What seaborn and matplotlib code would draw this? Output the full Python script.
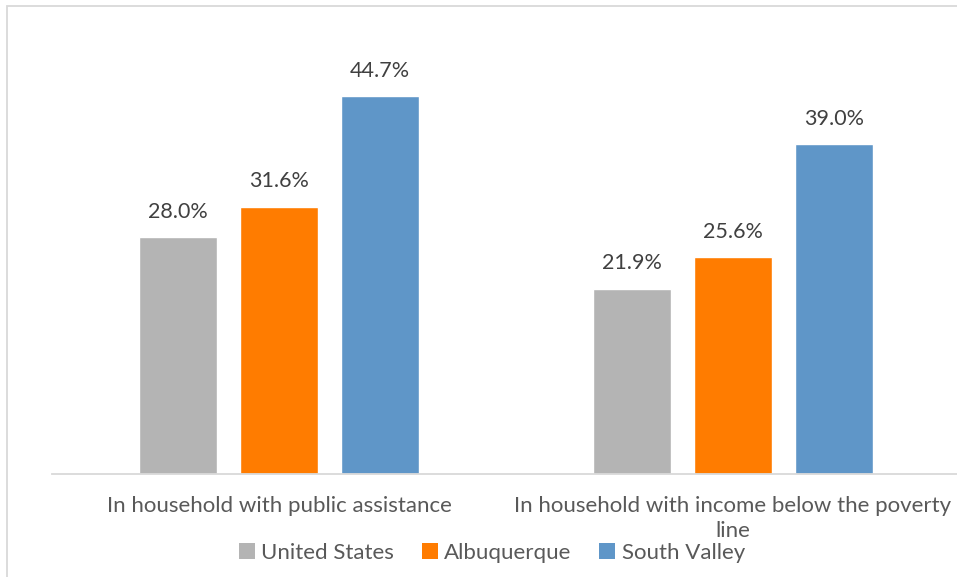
import matplotlib
matplotlib.use("Agg")
import matplotlib.pyplot as plt
import seaborn as sns
import pandas as pd
from matplotlib.patches import Rectangle, Patch

categories = ["In household with public assistance",
              "In household with income below the poverty\nline"]
series = ["United States", "Albuquerque", "South Valley"]
us_values = [28.0, 21.9]
abq_values = [31.6, 25.6]
sv_values = [44.7, 39.0]
colors = ["#B4B4B4", "#FF7C00", "#5F96C8"]

rows = []
for s, vals in zip(series, [us_values, abq_values, sv_values]):
    for c, v in zip(categories, vals):
        rows.append({"category": c, "series": s, "value": v})
df = pd.DataFrame(rows)

sns.set_theme(style="white")
plt.rcParams["font.family"] = ["Lato", "DejaVu Sans"]

W, H = 957, 577
fig = plt.figure(figsize=(W / 100, H / 100), dpi=100)
ax = fig.add_axes([52 / W, (H - 474) / H, (960 - 52) / W, (474 - 51) / H])

sns.barplot(data=df, x="category", y="value", hue="series", palette=colors,
            hue_order=series, order=categories, width=0.667, gap=0.22,
            saturation=1, ax=ax, legend=False)

for cont in ax.containers:
    ax.bar_label(cont, labels=[f"{v:.1f}%" for v in cont.datavalues],
                 padding=11, fontsize=15.5, color="#404040")

ax.set_ylim(0, 50)
ax.set_xlim(-0.5, 1.5)
ax.set_xlabel("")
ax.set_ylabel("")
ax.set_yticks([])
for side in ["top", "right", "left"]:
    ax.spines[side].set_visible(False)
ax.spines["bottom"].set_color("#D9D9D9")
ax.spines["bottom"].set_linewidth(1.3)
ax.tick_params(axis="x", length=0, pad=16, labelsize=16, labelcolor="#595959")
for lbl in ax.get_xticklabels():
    lbl.set_verticalalignment("top")
    lbl.set_linespacing(1.3)

handles = [Patch(facecolor=c, edgecolor="none", label=s) for s, c in zip(series, colors)]
fig.legend(handles=handles, loc="center", bbox_to_anchor=(492 / W, (H - 553) / H),
           ncol=3, frameon=False, fontsize=16, labelcolor="#595959",
           handlelength=0.7, handleheight=0.7, handletextpad=0.3,
           columnspacing=1.25, borderaxespad=0)

fig.patches.append(Rectangle((7 / W, -0.1), 1.2, (H - 6) / H + 0.1,
                             transform=fig.transFigure, fill=False,
                             edgecolor="#D9D9D9", linewidth=1.3))

fig.savefig("out.png", dpi=100)
